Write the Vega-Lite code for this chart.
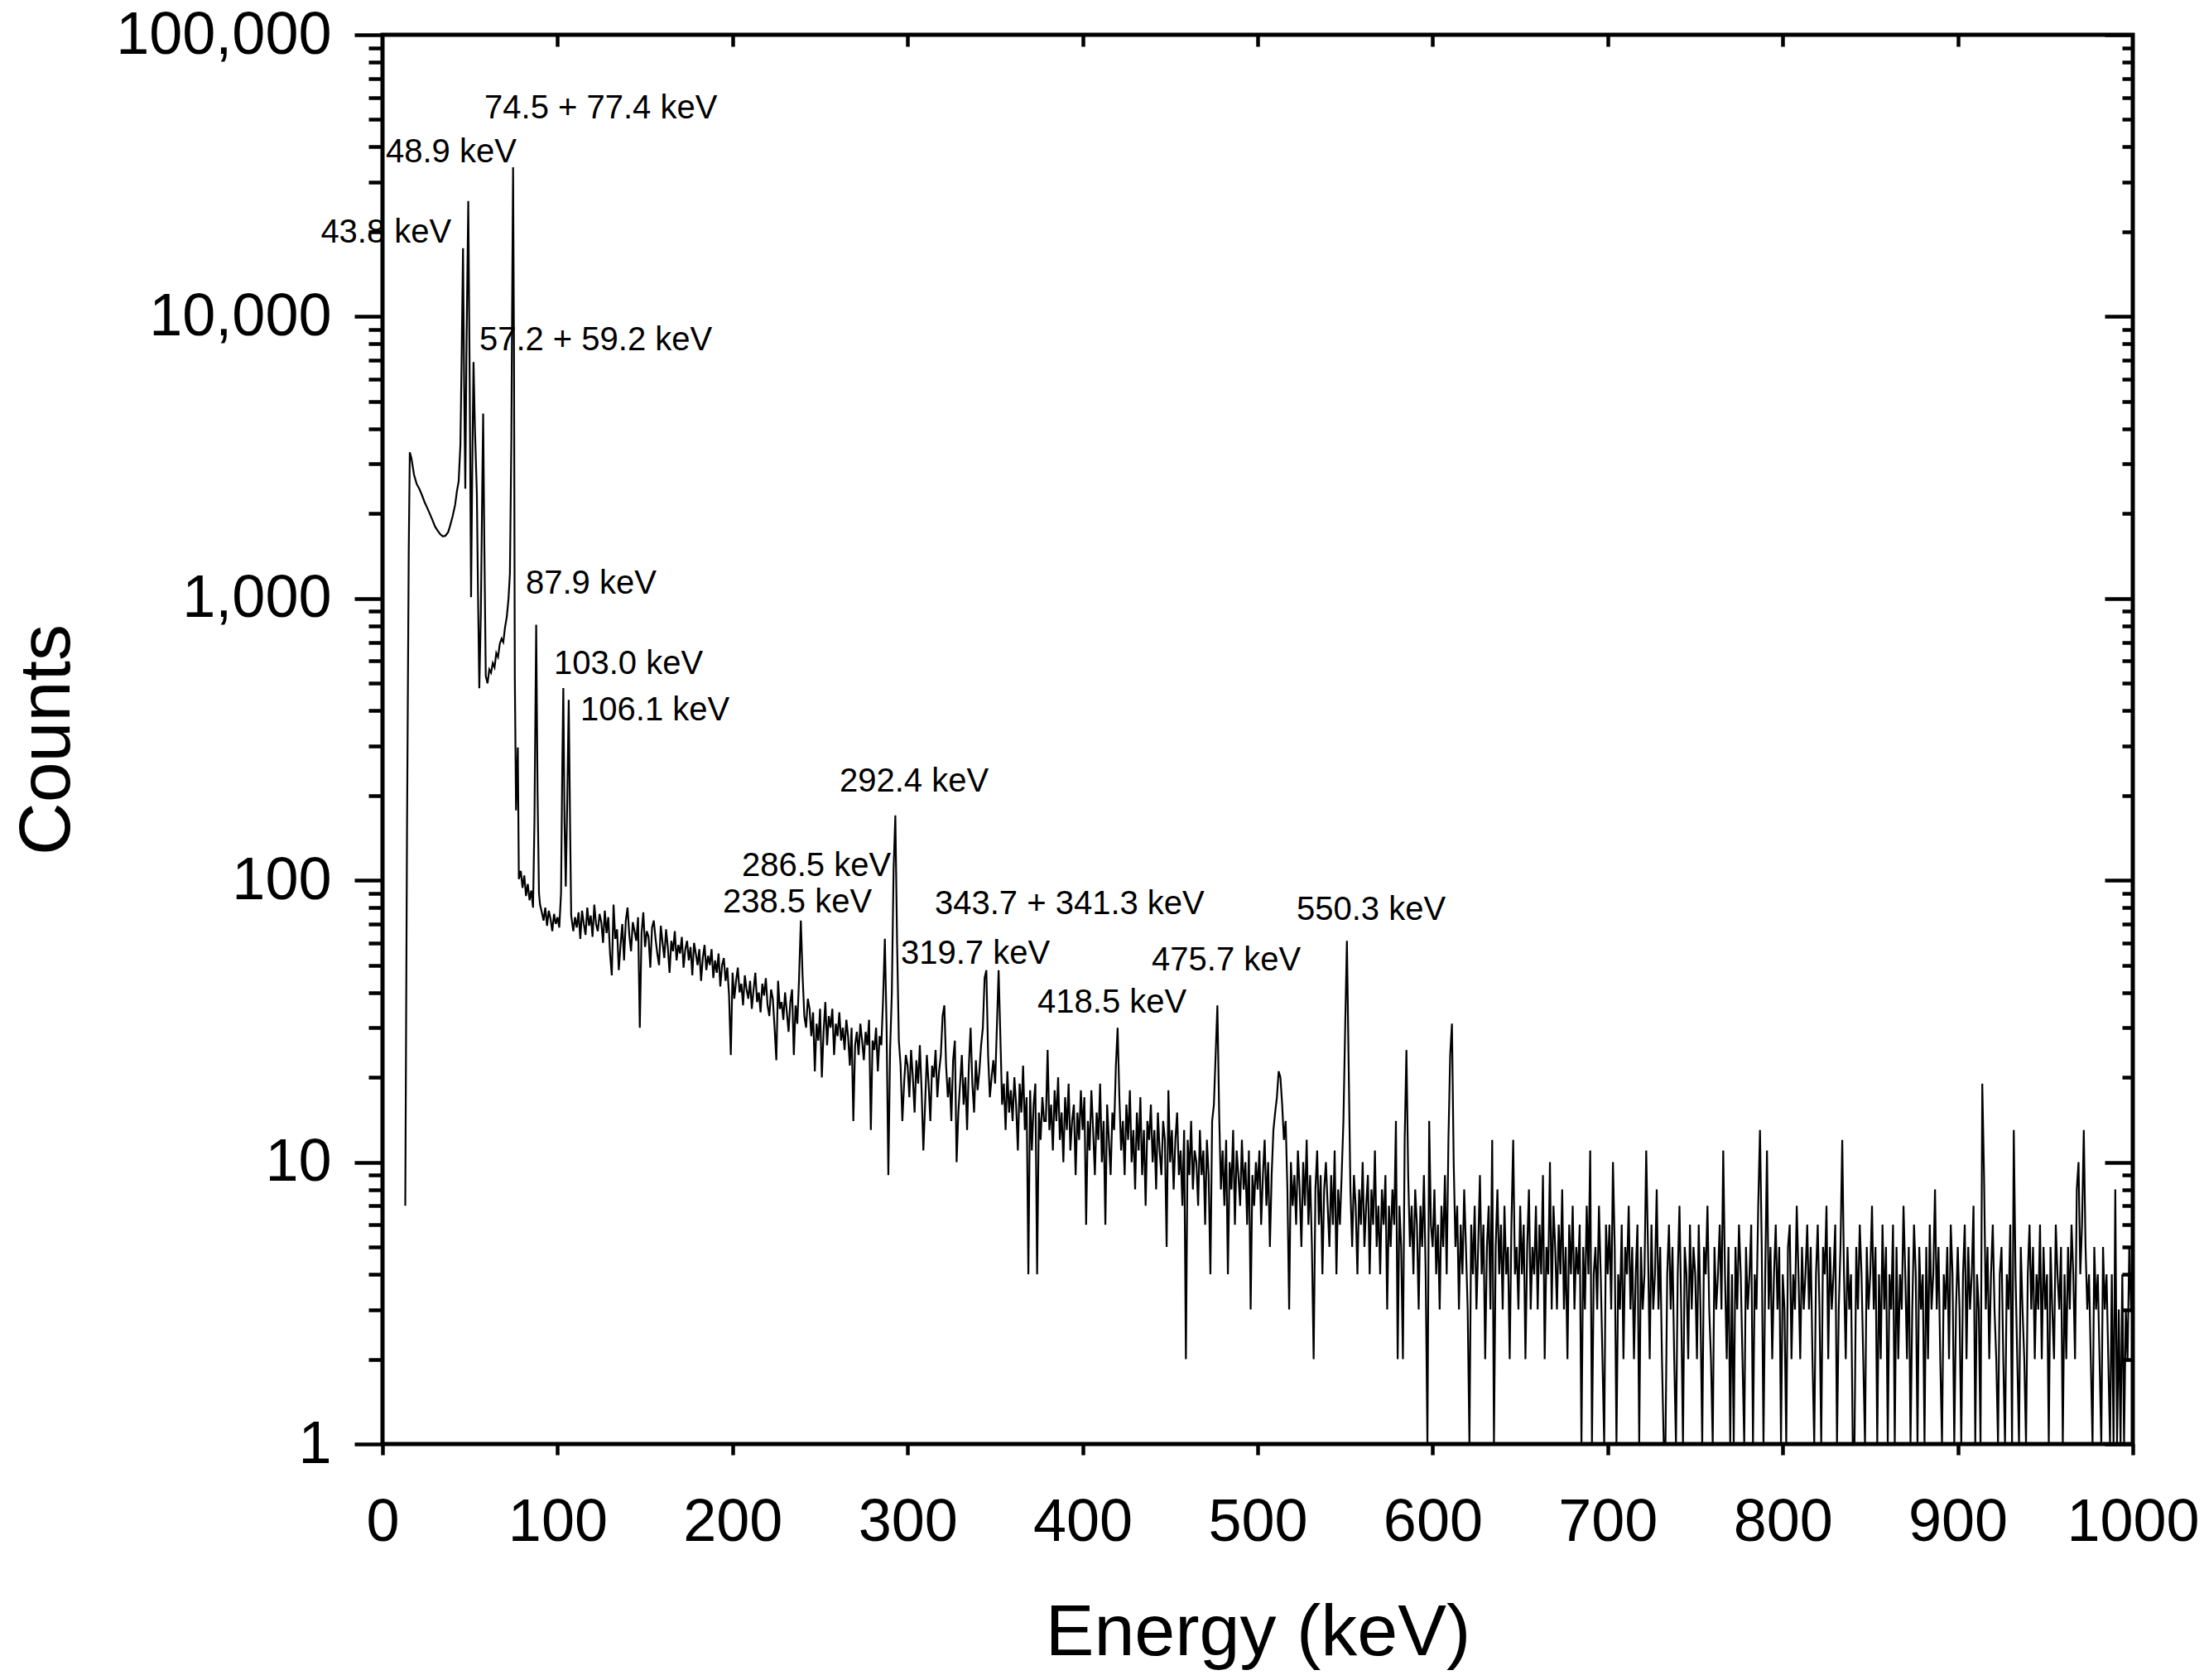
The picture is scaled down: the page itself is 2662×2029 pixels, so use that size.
{
  "$schema": "https://vega.github.io/schema/vega-lite/v6.json",
  "width": 2114,
  "height": 1702,
  "autosize": {"type": "none"},
  "padding": {"left": 462, "top": 42, "right": 86, "bottom": 285},
  "background": "white",
  "config": {
    "font": "Liberation Sans",
    "view": {"stroke": "black", "strokeWidth": 5},
    "axis": {
      "labelFont": "Liberation Sans",
      "titleFont": "Liberation Sans",
      "labelColor": "black",
      "titleColor": "black",
      "titleFontWeight": "normal",
      "tickColor": "black",
      "tickWidth": 4.5,
      "domain": false,
      "grid": false,
      "labelFlush": false,
      "labelOverlap": false,
      "labelBound": false,
      "labelLimit": 0
    }
  },
  "datasets": {
    "spectrum": [
      {"e":13,"c":7},{"e":14,"c":150},{"e":15,"c":1500},{"e":15.6,"c":3300},{"e":16.5,"c":3150},{"e":18,"c":2750},{"e":19.5,"c":2550},{"e":21,"c":2450},{"e":22.5,"c":2330},{"e":24,"c":2200},
      {"e":25.5,"c":2100},{"e":27,"c":2000},{"e":28.5,"c":1900},{"e":30,"c":1800},{"e":31.5,"c":1740},{"e":33,"c":1690},{"e":34.5,"c":1660},{"e":36,"c":1670},{"e":37.5,"c":1720},{"e":38.5,"c":1800},
      {"e":40,"c":1950},{"e":41.5,"c":2150},{"e":42.5,"c":2400},{"e":43.5,"c":2600},{"e":44.5,"c":3500},{"e":45.2,"c":7000},{"e":46,"c":17500},{"e":46.6,"c":6000},{"e":47.3,"c":2450},{"e":48,"c":8000},
      {"e":49,"c":25700},{"e":49.8,"c":6000},{"e":50.6,"c":1010},{"e":51.3,"c":3000},{"e":52,"c":6900},{"e":52.8,"c":4000},{"e":53.9,"c":2360},{"e":54.6,"c":1000},{"e":55.3,"c":480},{"e":56.2,"c":900},
      {"e":57,"c":2500},{"e":57.5,"c":4530},{"e":58.2,"c":1500},{"e":59,"c":530},{"e":60,"c":500},{"e":61,"c":560},{"e":62,"c":545},{"e":63,"c":590},{"e":64,"c":570},{"e":65,"c":640},
      {"e":66,"c":620},{"e":67,"c":690},{"e":68,"c":720},{"e":69,"c":700},{"e":70,"c":790},{"e":71,"c":860},{"e":72,"c":1000},{"e":72.8,"c":1230},{"e":73.6,"c":3600},{"e":74.1,"c":12000},
      {"e":74.6,"c":33900},{"e":75.1,"c":8000},{"e":75.6,"c":520},{"e":76.3,"c":177},{"e":77.3,"c":296},{"e":77.9,"c":101},{"e":79,"c":108},{"e":80,"c":94},{"e":81,"c":104},{"e":82,"c":88},
      {"e":83,"c":97},{"e":84,"c":85},{"e":85,"c":92},{"e":86,"c":80},{"e":86.8,"c":160},{"e":87.8,"c":807},{"e":88.6,"c":200},{"e":89.4,"c":90},{"e":90,"c":82},{"e":91,"c":77},
      {"e":92,"c":72},{"e":93,"c":80},{"e":94,"c":69},{"e":95,"c":78},{"e":96,"c":73},{"e":97,"c":66},{"e":98,"c":76},{"e":99,"c":70},{"e":100,"c":74},{"e":101,"c":68},
      {"e":102,"c":90},{"e":102.7,"c":250},{"e":103.3,"c":481},{"e":104,"c":160},{"e":104.7,"c":95},{"e":105.6,"c":200},{"e":106.4,"c":437},{"e":107.2,"c":150},{"e":107.8,"c":75},{"e":109,"c":66},
      {"e":110,"c":74},{"e":111,"c":68},{"e":112,"c":77},{"e":113,"c":62},{"e":114,"c":78},{"e":115,"c":70},{"e":116,"c":64},{"e":117,"c":80},{"e":118,"c":69},{"e":119,"c":75},
      {"e":120,"c":63},{"e":121,"c":82},{"e":122,"c":70},{"e":123,"c":66},{"e":124,"c":76},
      {"e":125,"c":71},{"e":126,"c":60},{"e":127,"c":78},{"e":128,"c":65},{"e":129,"c":74},{"e":130,"c":55},{"e":131,"c":46},{"e":132,"c":82},{"e":133,"c":62},{"e":134,"c":67},
      {"e":135,"c":48},{"e":136,"c":59},{"e":137,"c":70},{"e":138,"c":52},{"e":139,"c":72},{"e":140,"c":80},{"e":141,"c":64},{"e":142,"c":56},{"e":143,"c":71},{"e":144,"c":66},
      {"e":145,"c":61},{"e":146,"c":74},{"e":147,"c":30},{"e":148,"c":65},{"e":149,"c":77},{"e":150,"c":58},{"e":151,"c":66},{"e":152,"c":63},{"e":153,"c":49},{"e":154,"c":68},
      {"e":155,"c":72},{"e":156,"c":62},{"e":157,"c":55},{"e":158,"c":50},{"e":159,"c":69},{"e":160,"c":60},{"e":161,"c":53},{"e":162,"c":67},{"e":163,"c":58},{"e":164,"c":47},
      {"e":165,"c":61},{"e":166,"c":56},{"e":167,"c":66},{"e":168,"c":52},{"e":169,"c":59},{"e":170,"c":55},{"e":171,"c":63},{"e":172,"c":49},{"e":173,"c":57},{"e":174,"c":61},
      {"e":175,"c":52},{"e":176,"c":58},{"e":177,"c":46},{"e":178,"c":60},{"e":179,"c":55},{"e":180,"c":50},{"e":181,"c":57},{"e":182,"c":44},{"e":183,"c":53},{"e":184,"c":59},
      {"e":185,"c":48},{"e":186,"c":54},{"e":187,"c":50},{"e":188,"c":57},{"e":189,"c":45},{"e":190,"c":52},{"e":191,"c":47},{"e":192,"c":55},{"e":193,"c":42},{"e":194,"c":50},
      {"e":195,"c":53},{"e":196,"c":44},{"e":197,"c":49},{"e":198,"c":39},{"e":199,"c":24},
      {"e":200,"c":47},{"e":201,"c":38},{"e":202,"c":44},{"e":203,"c":49},{"e":204,"c":40},{"e":205,"c":43},{"e":206,"c":36},{"e":207,"c":46},{"e":208,"c":41},{"e":209,"c":38},
      {"e":210,"c":44},{"e":211,"c":35},{"e":212,"c":41},{"e":213,"c":47},{"e":214,"c":37},{"e":215,"c":40},{"e":216,"c":34},{"e":217,"c":43},{"e":218,"c":39},{"e":219,"c":45},
      {"e":220,"c":36},{"e":221,"c":33},{"e":222,"c":41},{"e":223,"c":38},{"e":224,"c":30},{"e":225,"c":23},{"e":226,"c":44},{"e":227,"c":35},{"e":228,"c":37},{"e":229,"c":32},
      {"e":230,"c":40},{"e":231,"c":34},{"e":232,"c":29},{"e":233,"c":37},{"e":234,"c":41},{"e":235,"c":24},{"e":236,"c":36},{"e":237,"c":31},{"e":238,"c":45},{"e":239,"c":72},
      {"e":240,"c":46},{"e":241,"c":33},{"e":242,"c":30},{"e":243,"c":38},{"e":244,"c":35},{"e":245,"c":28},{"e":246,"c":34},{"e":247,"c":21},{"e":248,"c":31},{"e":249,"c":27},
      {"e":250,"c":35},{"e":251,"c":20},{"e":252,"c":29},{"e":253,"c":37},{"e":254,"c":26},{"e":255,"c":33},{"e":256,"c":30},{"e":257,"c":35},{"e":258,"c":24},{"e":259,"c":31},
      {"e":260,"c":28},{"e":261,"c":34},{"e":262,"c":27},{"e":263,"c":30},{"e":264,"c":25},{"e":265,"c":32},{"e":266,"c":28},{"e":267,"c":22},{"e":268,"c":30},{"e":269,"c":14},
      {"e":270,"c":26},{"e":271,"c":29},{"e":272,"c":24},{"e":273,"c":31},{"e":274,"c":27},{"e":275,"c":23},{"e":276,"c":29},{"e":277,"c":26},{"e":278,"c":32},{"e":279,"c":13},
      {"e":280,"c":27},{"e":281,"c":25},{"e":282,"c":30},{"e":283,"c":21},{"e":284,"c":28},{"e":285,"c":26},{"e":286,"c":38},{"e":287,"c":62},{"e":288,"c":30},{"e":289,"c":9},
      {"e":290,"c":25},{"e":291,"c":40},{"e":292,"c":110},{"e":293,"c":170},{"e":294,"c":60},{"e":295,"c":27},{"e":296,"c":22},{"e":297,"c":14},{"e":298,"c":19},{"e":299,"c":24},
      {"e":300,"c":22},{"e":301,"c":17},{"e":302,"c":25},{"e":303,"c":20},{"e":304,"c":15},{"e":305,"c":23},{"e":306,"c":19},{"e":307,"c":26},{"e":308,"c":18},{"e":309,"c":11},
      {"e":310,"c":16},{"e":311,"c":24},{"e":312,"c":19},{"e":313,"c":14},{"e":314,"c":22},{"e":315,"c":20},{"e":316,"c":25},{"e":317,"c":17},{"e":318,"c":21},{"e":319,"c":24},
      {"e":320,"c":33},{"e":321,"c":36},{"e":322,"c":22},{"e":323,"c":17},{"e":324,"c":20},{"e":325,"c":14},{"e":326,"c":23},{"e":327,"c":27},{"e":328,"c":10},{"e":329,"c":15},
      {"e":330,"c":19},{"e":331,"c":24},{"e":332,"c":16},{"e":333,"c":20},{"e":334,"c":13},{"e":335,"c":22},{"e":336,"c":30},{"e":337,"c":19},{"e":338,"c":15},{"e":339,"c":23},
      {"e":340,"c":18},{"e":341,"c":21},{"e":342,"c":26},{"e":343,"c":30},{"e":344,"c":45},{"e":345,"c":48},{"e":346,"c":24},{"e":347,"c":17},{"e":348,"c":20},{"e":349,"c":23},
      {"e":350,"c":19},{"e":351,"c":30},{"e":352,"c":48},{"e":353,"c":28},{"e":354,"c":16},{"e":355,"c":19},{"e":356,"c":13},{"e":357,"c":21},{"e":358,"c":15},{"e":359,"c":18},
      {"e":360,"c":14},{"e":361,"c":20},{"e":362,"c":16},{"e":363,"c":11},{"e":364,"c":19},{"e":365,"c":15},{"e":366,"c":22},{"e":367,"c":13},{"e":368,"c":17},{"e":369,"c":4},
      {"e":370,"c":18},{"e":371,"c":11},{"e":372,"c":16},{"e":373,"c":19},{"e":374,"c":4},{"e":375,"c":15},{"e":376,"c":12},{"e":377,"c":17},{"e":378,"c":14},{"e":379,"c":14},
      {"e":380,"c":25},{"e":381,"c":13},{"e":382,"c":16},{"e":383,"c":11},{"e":384,"c":18},{"e":385,"c":14},{"e":386,"c":20},{"e":387,"c":12},{"e":388,"c":15},{"e":389,"c":10},
      {"e":390,"c":17},{"e":391,"c":13},{"e":392,"c":19},{"e":393,"c":11},{"e":394,"c":14},{"e":395,"c":16},{"e":396,"c":9},{"e":397,"c":15},{"e":398,"c":12},{"e":399,"c":18},
      {"e":400,"c":13},{"e":401,"c":17},{"e":402,"c":6},{"e":403,"c":14},{"e":404,"c":11},{"e":405,"c":18},{"e":406,"c":13},{"e":407,"c":9},{"e":408,"c":15},{"e":409,"c":12},
      {"e":410,"c":19},{"e":411,"c":10},{"e":412,"c":14},{"e":413,"c":6},{"e":414,"c":16},{"e":415,"c":12},{"e":416,"c":9},{"e":417,"c":15},{"e":418,"c":13},{"e":419,"c":22},
      {"e":420,"c":30},{"e":421,"c":17},{"e":422,"c":11},{"e":423,"c":14},{"e":424,"c":9},{"e":425,"c":16},{"e":426,"c":12},{"e":427,"c":18},{"e":428,"c":10},{"e":429,"c":13},
      {"e":430,"c":8},{"e":431,"c":15},{"e":432,"c":11},{"e":433,"c":17},{"e":434,"c":9},{"e":435,"c":13},{"e":436,"c":7},{"e":437,"c":14},{"e":438,"c":12},{"e":439,"c":16},
      {"e":440,"c":10},{"e":441,"c":13},{"e":442,"c":8},{"e":443,"c":15},{"e":444,"c":11},{"e":445,"c":9},{"e":446,"c":14},{"e":447,"c":12},{"e":448,"c":5},{"e":449,"c":18},
      {"e":450,"c":10},{"e":451,"c":13},{"e":452,"c":8},{"e":453,"c":12},{"e":454,"c":15},{"e":455,"c":9},{"e":456,"c":11},{"e":457,"c":7},{"e":458,"c":13},{"e":459,"c":2},
      {"e":460,"c":12},{"e":461,"c":9},{"e":462,"c":14},{"e":463,"c":8},{"e":464,"c":11},{"e":465,"c":10},{"e":466,"c":7},{"e":467,"c":13},{"e":468,"c":9},{"e":469,"c":11},
      {"e":470,"c":6},{"e":471,"c":12},{"e":472,"c":9},{"e":473,"c":4},{"e":474,"c":14},{"e":475,"c":16},{"e":476,"c":24},{"e":477,"c":36},{"e":478,"c":15},{"e":479,"c":8},
      {"e":480,"c":11},{"e":481,"c":7},{"e":482,"c":12},{"e":483,"c":4},{"e":484,"c":10},{"e":485,"c":8},{"e":486,"c":13},{"e":487,"c":6},{"e":488,"c":11},{"e":489,"c":9},
      {"e":490,"c":7},{"e":491,"c":12},{"e":492,"c":8},{"e":493,"c":10},{"e":494,"c":6},{"e":495,"c":11},{"e":496,"c":3},{"e":497,"c":9},{"e":498,"c":7},{"e":499,"c":10},
      {"e":500,"c":8},{"e":501,"c":11},{"e":502,"c":6},{"e":503,"c":9},{"e":504,"c":12},{"e":505,"c":7},{"e":506,"c":10},{"e":507,"c":5},{"e":508,"c":9},{"e":509,"c":13},
      {"e":510,"c":15},{"e":511,"c":17},{"e":512,"c":21},{"e":513,"c":20},{"e":514,"c":16},{"e":515,"c":12},{"e":516,"c":14},{"e":517,"c":8},{"e":518,"c":3},{"e":519,"c":10},
      {"e":520,"c":7},{"e":521,"c":9},{"e":522,"c":6},{"e":523,"c":11},{"e":524,"c":8},{"e":525,"c":5},{"e":526,"c":10},{"e":527,"c":7},{"e":528,"c":12},{"e":529,"c":6},
      {"e":530,"c":9},{"e":531,"c":5},{"e":532,"c":2},{"e":533,"c":8},{"e":534,"c":11},{"e":535,"c":6},{"e":536,"c":9},{"e":537,"c":4},{"e":538,"c":8},{"e":539,"c":10},
      {"e":540,"c":7},{"e":541,"c":5},{"e":542,"c":9},{"e":543,"c":6},{"e":544,"c":11},{"e":545,"c":4},{"e":546,"c":8},{"e":547,"c":6},{"e":548,"c":9},{"e":549,"c":14},
      {"e":550,"c":30},{"e":551,"c":61},{"e":552,"c":22},{"e":553,"c":8},{"e":554,"c":5},{"e":555,"c":9},{"e":556,"c":7},{"e":557,"c":4},{"e":558,"c":8},{"e":559,"c":6},
      {"e":560,"c":10},{"e":561,"c":5},{"e":562,"c":7},{"e":563,"c":9},{"e":564,"c":4},{"e":565,"c":8},{"e":566,"c":6},{"e":567,"c":11},{"e":568,"c":5},{"e":569,"c":7},
      {"e":570,"c":4},{"e":571,"c":8},{"e":572,"c":6},{"e":573,"c":9},{"e":574,"c":3},{"e":575,"c":7},{"e":576,"c":5},{"e":577,"c":8},{"e":578,"c":6},{"e":579,"c":14},
      {"e":580,"c":2},{"e":581,"c":7},{"e":582,"c":5},{"e":583,"c":2},{"e":584,"c":12},{"e":585,"c":25},{"e":586,"c":9},{"e":587,"c":5},{"e":588,"c":7},{"e":589,"c":4},
      {"e":590,"c":8},{"e":591,"c":6},{"e":592,"c":3},{"e":593,"c":7},{"e":594,"c":5},{"e":595,"c":9},{"e":596,"c":4},{"e":597,"c":1},{"e":598,"c":14},{"e":599,"c":6},
      {"e":600,"c":5},{"e":601,"c":8},{"e":602,"c":4},{"e":603,"c":6},{"e":604,"c":3},{"e":605,"c":7},{"e":606,"c":5},{"e":607,"c":9},{"e":608,"c":4},{"e":609,"c":12},
      {"e":610,"c":24},{"e":611,"c":31},{"e":612,"c":10},{"e":613,"c":5},{"e":614,"c":7},{"e":615,"c":3},{"e":616,"c":6},{"e":617,"c":4},{"e":618,"c":8},{"e":619,"c":5},
      {"e":620,"c":3},{"e":621,"c":1},{"e":622,"c":6},{"e":623,"c":4},{"e":624,"c":7},{"e":625,"c":3},{"e":626,"c":5},{"e":627,"c":9},{"e":628,"c":4},{"e":629,"c":6},
      {"e":630,"c":2},{"e":631,"c":5},{"e":632,"c":7},{"e":633,"c":3},{"e":634,"c":12},{"e":635,"c":1},{"e":636,"c":5},{"e":637,"c":8},{"e":638,"c":4},{"e":639,"c":6},
      {"e":640,"c":3},{"e":641,"c":7},{"e":642,"c":4},{"e":643,"c":5},{"e":644,"c":2},{"e":645,"c":6},{"e":646,"c":12},{"e":647,"c":4},{"e":648,"c":5},{"e":649,"c":3},
      {"e":650,"c":7},{"e":651,"c":4},{"e":652,"c":6},{"e":653,"c":2},{"e":654,"c":5},{"e":655,"c":8},{"e":656,"c":3},{"e":657,"c":5},{"e":658,"c":4},{"e":659,"c":7},
      {"e":660,"c":3},{"e":661,"c":6},{"e":662,"c":4},{"e":663,"c":9},{"e":664,"c":2},{"e":665,"c":5},{"e":666,"c":4},{"e":667,"c":10},{"e":668,"c":3},{"e":669,"c":7},
      {"e":670,"c":5},{"e":671,"c":3},{"e":672,"c":6},{"e":673,"c":4},{"e":674,"c":8},{"e":675,"c":3},{"e":676,"c":5},{"e":677,"c":2},{"e":678,"c":6},{"e":679,"c":4},
      {"e":680,"c":7},{"e":681,"c":3},{"e":682,"c":5},{"e":683,"c":4},{"e":684,"c":6},{"e":685,"c":1},{"e":686,"c":5},{"e":687,"c":3},{"e":688,"c":7},{"e":689,"c":4},
      {"e":690,"c":11},{"e":691,"c":1},{"e":692,"c":4},{"e":693,"c":5},{"e":694,"c":3},{"e":695,"c":7},{"e":696,"c":4},{"e":697,"c":2},{"e":698,"c":1},{"e":699,"c":6},
      {"e":700,"c":4},{"e":701,"c":6},{"e":702,"c":3},{"e":703,"c":10},{"e":704,"c":5},{"e":705,"c":1},{"e":706,"c":4},{"e":707,"c":3},{"e":708,"c":6},{"e":709,"c":2},
      {"e":710,"c":5},{"e":711,"c":4},{"e":712,"c":7},{"e":713,"c":3},{"e":714,"c":5},{"e":715,"c":2},{"e":716,"c":4},{"e":717,"c":6},{"e":718,"c":1},{"e":719,"c":5},
      {"e":720,"c":3},{"e":721,"c":4},{"e":722,"c":11},{"e":723,"c":5},{"e":724,"c":2},{"e":725,"c":6},{"e":726,"c":3},{"e":727,"c":4},{"e":728,"c":8},{"e":729,"c":3},
      {"e":730,"c":5},{"e":731,"c":2},{"e":732,"c":1},{"e":733,"c":1},{"e":734,"c":4},{"e":735,"c":6},{"e":736,"c":3},{"e":737,"c":5},{"e":738,"c":2},{"e":739,"c":1},
      {"e":740,"c":4},{"e":741,"c":7},{"e":742,"c":3},{"e":743,"c":1},{"e":744,"c":5},{"e":745,"c":4},{"e":746,"c":2},{"e":747,"c":6},{"e":748,"c":3},{"e":749,"c":5},
      {"e":750,"c":4},{"e":751,"c":2},{"e":752,"c":6},{"e":753,"c":3},{"e":754,"c":1},{"e":755,"c":5},{"e":756,"c":4},{"e":757,"c":7},{"e":758,"c":3},{"e":759,"c":2},
      {"e":760,"c":1},{"e":761,"c":5},{"e":762,"c":3},{"e":763,"c":4},{"e":764,"c":6},{"e":765,"c":3},{"e":766,"c":11},{"e":767,"c":4},{"e":768,"c":2},{"e":769,"c":5},
      {"e":770,"c":1},{"e":771,"c":4},{"e":772,"c":1},{"e":773,"c":5},{"e":774,"c":3},{"e":775,"c":6},{"e":776,"c":4},{"e":777,"c":2},{"e":778,"c":1},{"e":779,"c":5},
      {"e":780,"c":3},{"e":781,"c":4},{"e":782,"c":6},{"e":783,"c":1},{"e":784,"c":4},{"e":785,"c":3},{"e":786,"c":7},{"e":787,"c":13},{"e":788,"c":5},{"e":789,"c":1},
      {"e":790,"c":4},{"e":791,"c":11},{"e":792,"c":3},{"e":793,"c":5},{"e":794,"c":2},{"e":795,"c":4},{"e":796,"c":6},{"e":797,"c":3},{"e":798,"c":5},{"e":799,"c":1},
      {"e":800,"c":4},{"e":801,"c":3},{"e":802,"c":1},{"e":803,"c":5},{"e":804,"c":6},{"e":805,"c":2},{"e":806,"c":4},{"e":807,"c":3},{"e":808,"c":7},{"e":809,"c":4},
      {"e":810,"c":2},{"e":811,"c":5},{"e":812,"c":3},{"e":813,"c":4},{"e":814,"c":6},{"e":815,"c":3},{"e":816,"c":5},{"e":817,"c":2},{"e":818,"c":1},{"e":819,"c":4},
      {"e":820,"c":6},{"e":821,"c":3},{"e":822,"c":1},{"e":823,"c":5},{"e":824,"c":4},{"e":825,"c":7},{"e":826,"c":2},{"e":827,"c":5},{"e":828,"c":3},{"e":829,"c":4},
      {"e":830,"c":6},{"e":831,"c":1},{"e":832,"c":3},{"e":833,"c":5},{"e":834,"c":12},{"e":835,"c":4},{"e":836,"c":2},{"e":837,"c":5},{"e":838,"c":3},{"e":839,"c":4},
      {"e":840,"c":1},{"e":841,"c":1},{"e":842,"c":5},{"e":843,"c":3},{"e":844,"c":6},{"e":845,"c":4},{"e":846,"c":2},{"e":847,"c":1},{"e":848,"c":5},{"e":849,"c":3},
      {"e":850,"c":4},{"e":851,"c":7},{"e":852,"c":3},{"e":853,"c":5},{"e":854,"c":1},{"e":855,"c":4},{"e":856,"c":2},{"e":857,"c":6},{"e":858,"c":3},{"e":859,"c":5},
      {"e":860,"c":1},{"e":861,"c":4},{"e":862,"c":3},{"e":863,"c":6},{"e":864,"c":1},{"e":865,"c":5},{"e":866,"c":2},{"e":867,"c":4},{"e":868,"c":3},{"e":869,"c":7},
      {"e":870,"c":4},{"e":871,"c":2},{"e":872,"c":5},{"e":873,"c":1},{"e":874,"c":3},{"e":875,"c":6},{"e":876,"c":4},{"e":877,"c":1},{"e":878,"c":5},{"e":879,"c":3},
      {"e":880,"c":4},{"e":881,"c":1},{"e":882,"c":5},{"e":883,"c":2},{"e":884,"c":6},{"e":885,"c":3},{"e":886,"c":4},{"e":887,"c":8},{"e":888,"c":3},{"e":889,"c":5},
      {"e":890,"c":2},{"e":891,"c":1},{"e":892,"c":4},{"e":893,"c":3},{"e":894,"c":5},{"e":895,"c":2},{"e":896,"c":6},{"e":897,"c":4},{"e":898,"c":1},{"e":899,"c":3},
      {"e":900,"c":5},{"e":901,"c":3},{"e":902,"c":1},{"e":903,"c":4},{"e":904,"c":6},{"e":905,"c":2},{"e":906,"c":5},{"e":907,"c":3},{"e":908,"c":4},{"e":909,"c":7},
      {"e":910,"c":1},{"e":911,"c":4},{"e":912,"c":3},{"e":913,"c":1},{"e":914,"c":19},{"e":915,"c":9},{"e":916,"c":3},{"e":917,"c":5},{"e":918,"c":2},{"e":919,"c":4},
      {"e":920,"c":6},{"e":921,"c":3},{"e":922,"c":2},{"e":923,"c":1},{"e":924,"c":4},{"e":925,"c":5},{"e":926,"c":2},{"e":927,"c":1},{"e":928,"c":4},{"e":929,"c":3},
      {"e":930,"c":6},{"e":931,"c":1},{"e":932,"c":13},{"e":933,"c":4},{"e":934,"c":2},{"e":935,"c":1},{"e":936,"c":5},{"e":937,"c":3},{"e":938,"c":2},{"e":939,"c":1},
      {"e":940,"c":4},{"e":941,"c":6},{"e":942,"c":3},{"e":943,"c":5},{"e":944,"c":2},{"e":945,"c":4},{"e":946,"c":3},{"e":947,"c":6},{"e":948,"c":2},{"e":949,"c":5},
      {"e":950,"c":3},{"e":951,"c":4},{"e":952,"c":1},{"e":953,"c":5},{"e":954,"c":3},{"e":955,"c":2},{"e":956,"c":6},{"e":957,"c":4},{"e":958,"c":3},{"e":959,"c":5},
      {"e":960,"c":1},{"e":961,"c":4},{"e":962,"c":2},{"e":963,"c":5},{"e":964,"c":3},{"e":965,"c":6},{"e":966,"c":4},{"e":967,"c":2},{"e":968,"c":8},{"e":969,"c":10},
      {"e":970,"c":4},{"e":971,"c":6},{"e":972,"c":13},{"e":973,"c":5},{"e":974,"c":3},{"e":975,"c":4},{"e":976,"c":2},{"e":977,"c":1},{"e":978,"c":5},{"e":979,"c":3},
      {"e":980,"c":4},{"e":981,"c":2},{"e":982,"c":1},{"e":983,"c":5},{"e":984,"c":3},{"e":985,"c":4},{"e":986,"c":2},{"e":987,"c":1},{"e":988,"c":4},{"e":989,"c":1},
      {"e":990,"c":8},{"e":991,"c":1},{"e":992,"c":3},{"e":993,"c":1},{"e":994,"c":4},{"e":995,"c":1},{"e":996,"c":3},{"e":997,"c":2},{"e":998,"c":5},{"e":999,"c":3},
      {"e":1000,"c":4}
    ],
    "peaks": [
      {"e":58.2,"c":50500,"label":"74.5 + 77.4 keV"},
      {"e":1.9,"c":35300,"label":"48.9 keV"},
      {"e":-35.3,"c":18300,"label":"43.8 keV"},
      {"e":55.3,"c":7600,"label":"57.2 + 59.2 keV"},
      {"e":81.8,"c":1040,"label":"87.9 keV"},
      {"e":97.9,"c":540,"label":"103.0 keV"},
      {"e":113.1,"c":370,"label":"106.1 keV"},
      {"e":261.1,"c":207,"label":"292.4 keV"},
      {"e":205.3,"c":103.5,"label":"286.5 keV"},
      {"e":194.4,"c":76.9,"label":"238.5 keV"},
      {"e":315.5,"c":75.9,"label":"343.7 + 341.3 keV"},
      {"e":296.1,"c":50.6,"label":"319.7 keV"},
      {"e":439.5,"c":47.9,"label":"475.7 keV"},
      {"e":374.2,"c":34,"label":"418.5 keV"},
      {"e":522.2,"c":72.4,"label":"550.3 keV"}
    ]
  },
  "layer": [
    {
      "data": {"name": "spectrum"},
      "mark": {"type": "line", "color": "black", "strokeWidth": 2.2, "clip": true},
      "encoding": {
        "x": {
          "field": "e",
          "type": "quantitative",
          "scale": {"domain": [0, 1000], "nice": false, "zero": false},
          "axis": {
            "orient": "bottom",
            "values": [0, 100, 200, 300, 400, 500, 600, 700, 800, 900, 1000],
            "format": "d",
            "title": "Energy (keV)",
            "titleFontSize": 88,
            "titleBaseline": "alphabetic",
            "titleY": 254,
            "labelFontSize": 72,
            "labelBaseline": "alphabetic",
            "tickSize": 13,
            "labelPadding": 103
          }
        },
        "y": {
          "field": "c",
          "type": "quantitative",
          "scale": {"type": "log", "domain": [1, 100000], "nice": false},
          "axis": {
            "orient": "left",
            "values": [1,2,3,4,5,6,7,8,9,10,20,30,40,50,60,70,80,90,100,200,300,400,500,600,700,800,900,1000,2000,3000,4000,5000,6000,7000,8000,9000,10000,20000,30000,40000,50000,60000,70000,80000,90000,100000],
            "labelExpr": "indexof([1,10,100,1000,10000,100000], datum.value) >= 0 ? format(datum.value, ',') : ''",
            "title": "Counts",
            "titleFontSize": 88,
            "titleBaseline": "alphabetic",
            "titleX": -379,
            "titleY": 851,
            "labelFontSize": 72,
            "tickSize": {"condition": {"test": "indexof([1,10,100,1000,10000,100000], datum.value) >= 0", "value": 34}, "value": 17},
            "labelPadding": 28
          }
        }
      }
    },
    {
      "data": {"name": "peaks"},
      "mark": {"type": "text", "align": "left", "baseline": "alphabetic", "font": "Liberation Sans", "fontSize": 40, "color": "black", "clip": false},
      "encoding": {
        "x": {
          "field": "e",
          "type": "quantitative",
          "scale": {"domain": [0, 1000], "nice": false, "zero": false},
          "axis": {
            "orient": "top",
            "values": [100, 200, 300, 400, 500, 600, 700, 800, 900],
            "labels": false,
            "title": null,
            "tickSize": -14
          }
        },
        "y": {
          "field": "c",
          "type": "quantitative",
          "scale": {"type": "log", "domain": [1, 100000], "nice": false},
          "axis": {
            "orient": "right",
            "values": [1,2,3,4,5,6,7,8,9,10,20,30,40,50,60,70,80,90,100,200,300,400,500,600,700,800,900,1000,2000,3000,4000,5000,6000,7000,8000,9000,10000,20000,30000,40000,50000,60000,70000,80000,90000,100000],
            "labels": false,
            "title": null,
            "tickSize": {"condition": {"test": "indexof([1,10,100,1000,10000,100000], datum.value) >= 0", "value": -34}, "value": -13}
          }
        },
        "text": {"field": "label", "type": "nominal"}
      }
    }
  ],
  "resolve": {"axis": {"x": "independent", "y": "independent"}}
}
